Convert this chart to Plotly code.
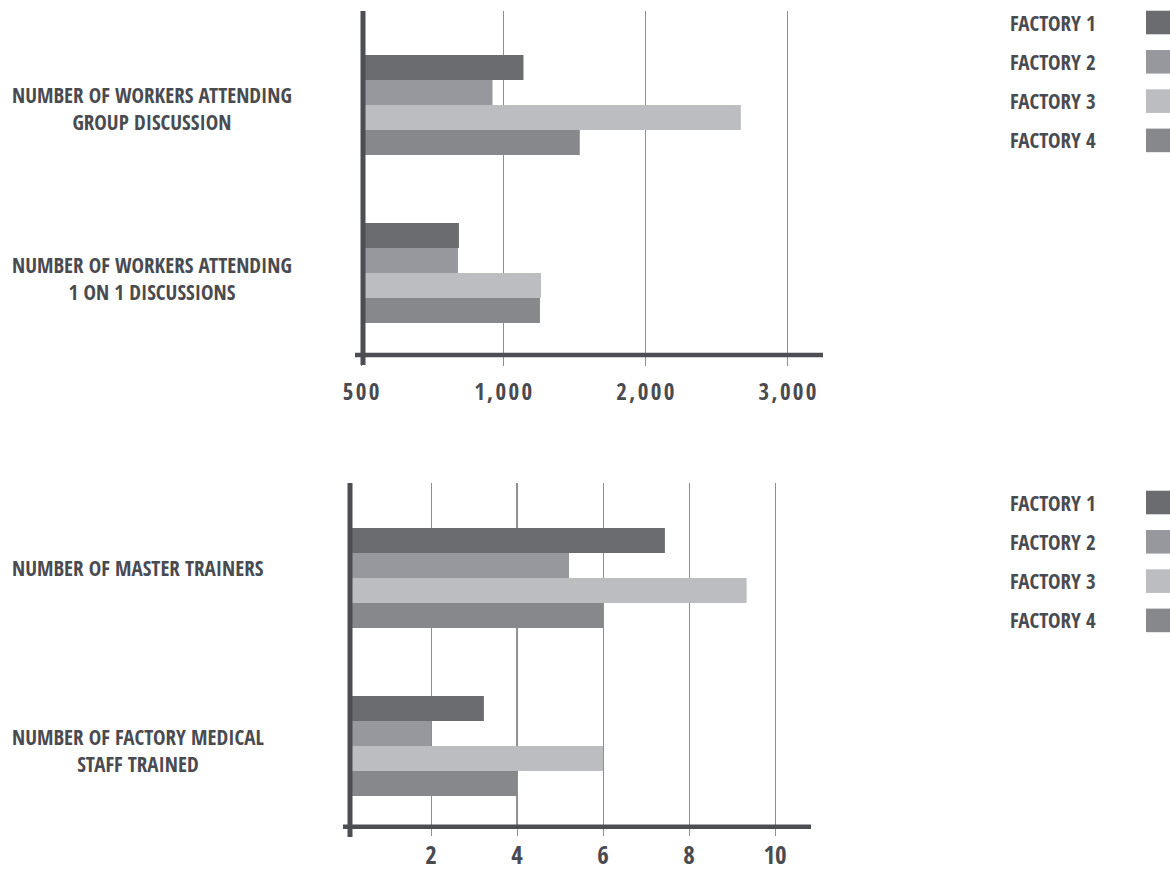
import plotly.graph_objects as go

# ---------------- data ----------------
factories = ["FACTORY 1", "FACTORY 2", "FACTORY 3", "FACTORY 4"]
colors = ["#6a6c70", "#96989e", "#bbbdc1", "#86888c"]

top_keys = ["group", "one"]
top_labels = ["NUMBER OF WORKERS ATTENDING<br>GROUP DISCUSSION",
              "NUMBER OF WORKERS ATTENDING<br>1 ON 1 DISCUSSIONS"]
top_values = {
    "FACTORY 1": [1143, 689],
    "FACTORY 2": [925, 682],
    "FACTORY 3": [2672, 1266],
    "FACTORY 4": [1539, 1259],
}
top_tickvals = [0, 1000, 2000, 3000]
top_ticktext = ["500", "1,000", "2,000", "3,000"]

bot_keys = ["master", "medical"]
bot_labels = ["NUMBER OF MASTER TRAINERS",
              "NUMBER OF FACTORY MEDICAL<br>STAFF TRAINED"]
bot_values = {
    "FACTORY 1": [7.44, 3.23],
    "FACTORY 2": [5.21, 2.0],
    "FACTORY 3": [9.34, 6.0],
    "FACTORY 4": [6.0, 4.0],
}
bot_tickvals = [2, 4, 6, 8, 10]
bot_ticktext = ["2", "4", "6", "8", "10"]

# ---------------- style ----------------
W, H = 1170, 872
FONT = "Open Sans Condensed, Roboto Condensed, DejaVu Sans Condensed, sans-serif"
TXT = "#4a4b50"
AX = "#4d4e54"
GRID = "#8e8e8e"
HS = "\u200a"  # hair space for letter spacing


def px_x(p):
    return p / W


def px_y(p):
    return 1 - p / H


def spaced(s):
    return HS.join(list(s))


fig = go.Figure()

for f, c in zip(factories, colors):
    fig.add_trace(go.Bar(y=top_keys, x=top_values[f], orientation="h", name=f,
                         marker=dict(color=c, line=dict(width=0)),
                         xaxis="x", yaxis="y", showlegend=False))
    fig.add_trace(go.Bar(y=bot_keys, x=bot_values[f], orientation="h", name=f,
                         marker=dict(color=c, line=dict(width=0)),
                         xaxis="x2", yaxis="y2", showlegend=False))

common_x = dict(showgrid=True, gridcolor=GRID, gridwidth=1.3, zeroline=False,
                showline=False, ticks="outside", tickcolor=GRID, tickwidth=1.3,
                tickmode="array", fixedrange=True, automargin=False)
common_y = dict(type="category", showticklabels=False, showgrid=False, zeroline=False,
                showline=False, ticks="", fixedrange=True, automargin=False)

fig.update_layout(
    width=W, height=H, autosize=False,
    margin=dict(l=0, r=0, t=0, b=0, pad=0),
    paper_bgcolor="white", plot_bgcolor="white",
    barmode="group", bargap=0.405, bargroupgap=0,
    font=dict(family=FONT, color=TXT),
    xaxis=dict(domain=[px_x(361), px_x(823)], range=[0, 3250], anchor="y",
               tickvals=top_tickvals, ticktext=[spaced(t) for t in top_ticktext],
               ticklen=10, tickfont=dict(family=FONT, size=23, color=TXT, weight="bold"),
               ticklabelstandoff=6, **common_x),
    yaxis=dict(domain=[px_y(355), px_y(11)], anchor="x",
               categoryarray=top_keys, range=[1.488, -0.5595], **common_y),
    xaxis2=dict(domain=[px_x(348), px_x(811)], range=[3 / 43, 466 / 43], anchor="y2",
                tickvals=bot_tickvals, ticktext=bot_ticktext,
                ticklen=8, tickfont=dict(family=FONT, size=25, color=TXT, weight="bold"),
                ticklabelstandoff=-2, **common_x),
    yaxis2=dict(domain=[px_y(826.7), px_y(483)], anchor="x2",
                categoryarray=bot_keys, range=[1.480, -0.5655], **common_y),
)

shapes = []
# darker gridline at the "4" tick of the lower chart
shapes.append(dict(type="line", xref="x2", yref="y2 domain",
                   x0=bot_tickvals[1], x1=bot_tickvals[1], y0=0, y1=1,
                   line=dict(color=AX, width=1.2), layer="below"))
# axis lines
shapes.append(dict(type="line", xref="paper", yref="paper",
                   x0=px_x(363), x1=px_x(363), y0=px_y(365), y1=px_y(11),
                   line=dict(color=AX, width=5), layer="above"))
shapes.append(dict(type="line", xref="paper", yref="paper",
                   x0=px_x(355), x1=px_x(823), y0=px_y(355), y1=px_y(355),
                   line=dict(color=AX, width=4.5), layer="above"))
shapes.append(dict(type="line", xref="paper", yref="paper",
                   x0=px_x(350), x1=px_x(350), y0=px_y(837), y1=px_y(483),
                   line=dict(color=AX, width=5), layer="above"))
shapes.append(dict(type="line", xref="paper", yref="paper",
                   x0=px_x(343), x1=px_x(811), y0=px_y(826.7), y1=px_y(826.7),
                   line=dict(color=AX, width=4.5), layer="above"))

LBL = dict(family=FONT, size=21, color=TXT, weight="bold")

annotations = []
for key, lab, ys in zip(top_keys, top_labels, [-4, -5]):
    annotations.append(dict(text=lab, xref="paper", yref="y", x=px_x(10), y=key,
                            xanchor="left", yanchor="middle", align="center",
                            showarrow=False, yshift=ys, font=LBL))
for key, lab, ys in zip(bot_keys, bot_labels, [10, -4]):
    annotations.append(dict(text=lab, xref="paper", yref="y2", x=px_x(10), y=key,
                            xanchor="left", yanchor="middle", align="center",
                            showarrow=False, yshift=ys, font=LBL))

for top_y in [22.5, 502.5]:
    for i, (f, c) in enumerate(zip(factories, colors)):
        cy = top_y + i * 39.3
        annotations.append(dict(text=f, xref="paper", yref="paper",
                                x=px_x(1008), y=px_y(cy), xanchor="left", yanchor="middle",
                                showarrow=False, font=LBL))
        shapes.append(dict(type="rect", xref="paper", yref="paper",
                           x0=px_x(1146), x1=px_x(1172), y0=px_y(cy + 11.8), y1=px_y(cy - 11.8),
                           fillcolor=c, line=dict(width=0)))

fig.update_layout(shapes=shapes, annotations=annotations)

fig.write_html("out.html", config={"displayModeBar": False})
